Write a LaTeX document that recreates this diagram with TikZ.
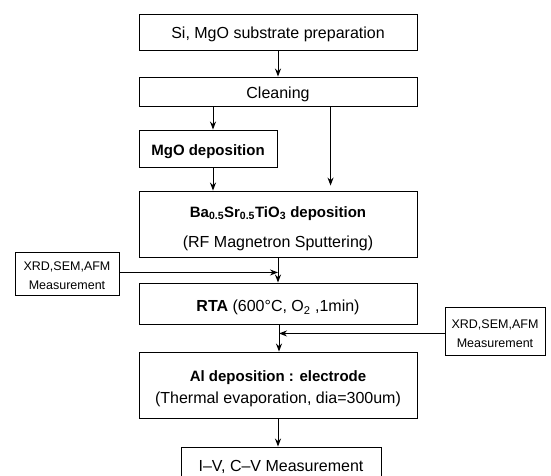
\documentclass[tikz,border=0pt]{standalone}
\usepackage{fontspec}
\setmainfont{Liberation Sans}
\usetikzlibrary{arrows.meta,calc}
\begin{document}
\begin{tikzpicture}[x=1pt,y=-1pt,
  box/.style={draw, line width=0.9pt, inner sep=0pt},
  txt/.style={inner sep=0pt, text height=11.5pt, text depth=0pt, font=\fontsize{16}{19}\selectfont},
  btxt/.style={inner sep=0pt, text height=10.8pt, text depth=0pt, font=\fontsize{15}{18}\selectfont\bfseries},
  stxt/.style={inner sep=0pt, text height=9pt, text depth=0pt, font=\fontsize{12.5}{15}\selectfont},
  arr/.style={-{Stealth[length=8pt,width=6pt]}, line width=1pt}]
\useasboundingbox (0,0) rectangle (551,475);
\clip (0,0) rectangle (551,475);
\fill[white] (0,0) rectangle (551,475);
% boxes
\node[box, minimum width=278pt, minimum height=36pt] (s1) at (278,32) {};
\node[box, minimum width=278pt, minimum height=29pt] (clean) at (278,91.5) {};
\node[box, minimum width=138pt, minimum height=37pt] (mgo) at (208,148.5) {};
\node[box, minimum width=278pt, minimum height=66pt] (bst) at (278,224) {};
\node[box, minimum width=104pt, minimum height=43pt] (xrd1) at (67,273.5) {};
\node[box, minimum width=278pt, minimum height=41pt] (rta) at (278,303.5) {};
\node[box, minimum width=100pt, minimum height=48pt] (xrd2) at (495,331) {};
\node[box, minimum width=278pt, minimum height=66pt] (al) at (278,385) {};
\node[box, minimum width=200pt, minimum height=38pt] (iv) at (281,466) {};
% texts
\node[txt] (s1t) at (278,33) {Si, MgO substrate preparation};
\node[txt] (cleant) at (278,93) {Cleaning};
\node[btxt] (mgot) at (208,150) {MgO deposition};
\node[btxt] (bstt) at (278,212) {Ba\textsubscript{0.5}Sr\textsubscript{0.5}TiO\textsubscript{3} deposition};
\node[txt] (bstu) at (278,242) {(RF Magnetron Sputtering)};
\node[stxt] (xrd1a) at (67,266) {XRD,SEM,AFM};
\node[stxt] (xrd1b) at (67,284.5) {Measurement};
\node[txt] (rtat) at (278,306) {{\bfseries RTA} (600°C, O\textsubscript{2} ,1min)};
\node[stxt] (xrd2a) at (495,324) {XRD,SEM,AFM};
\node[stxt] (xrd2b) at (495,343) {Measurement};
\node[btxt] (alt) at (278,376) {Al deposition : electrode};
\node[txt] (alu) at (278,398) {(Thermal evaporation, dia=300um)};
\node[txt] (ivt) at (281,466) {I–V, C–V Measurement};
% connectors
\draw[arr] (s1.south) -- (clean.north);
\draw[arr] ([xshift=5pt]mgo.north |- clean.south) -- ([xshift=5pt]mgo.north);
\draw[arr] ([xshift=5pt]mgo.south) -- ([xshift=5pt]mgo.south |- bst.north);
\coordinate (rt) at ($(clean.south west)+(192,0)$);
\draw[arr, shorten >=5pt] (rt) -- (rt |- bst.north);
\draw[arr] (bst.south) -- (rta.north);
\coordinate (j1) at ($(bst.south)+(0,15)$);
\draw[arr] (xrd1.east |- j1) -- (j1);
\draw[arr] ([xshift=1pt]rta.south) -- ([xshift=1pt]al.north);
\coordinate (j2) at ($(rta.south)+(1,9)$);
\draw[arr] (xrd2.west |- j2) -- (j2);
\draw[arr] (al.south) -- (al.south |- iv.north);
\end{tikzpicture}
\end{document}
